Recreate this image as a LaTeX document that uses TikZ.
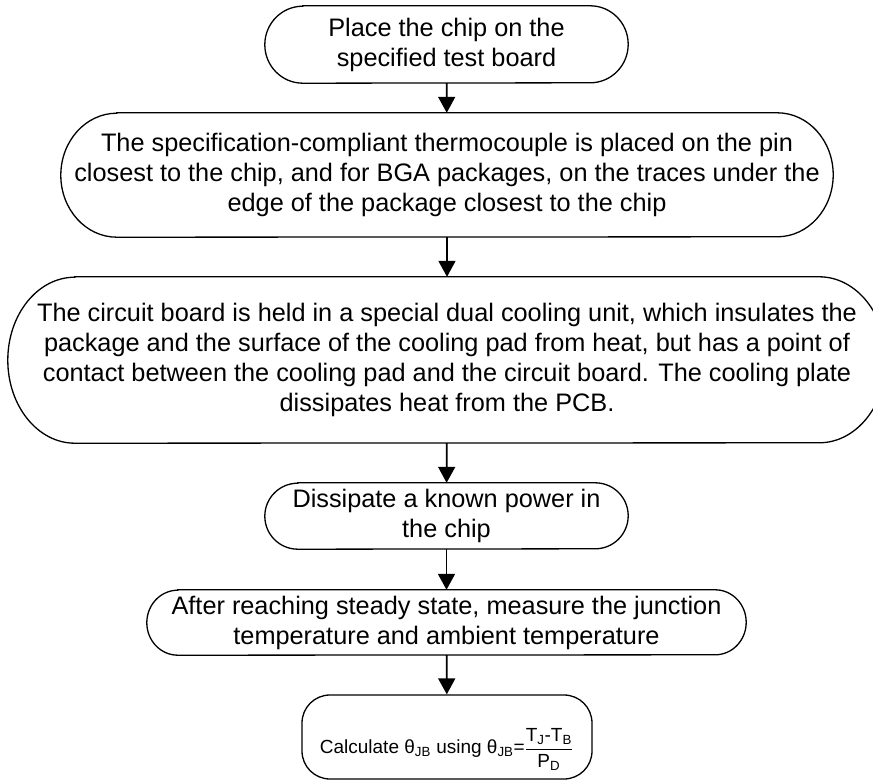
\documentclass[tikz,border=0pt]{standalone}
\usepackage{fontspec}
\setmainfont{Liberation Sans}
\usetikzlibrary{arrows.meta}
\tikzset{
  box/.style={shape=rectangle, inner sep=0pt, align=center, font=\fontsize{25.3}{30}\selectfont},
  outline/.style={draw=black, line width=1.3pt},
  arr/.style={draw=black, line width=1.8pt, -{Triangle[length=16pt,width=17pt]}},
}
\newcommand\stadium[3]{%
  \draw[outline] ([xshift=#2]#1.north west) -- ([xshift=-#2]#1.north east)
    arc[start angle=90,end angle=-90,x radius=#2,y radius=#3]
    -- ([xshift=#2]#1.south west)
    arc[start angle=270,end angle=90,x radius=#2,y radius=#3] -- cycle;}
\begin{document}
\begin{tikzpicture}[x=1pt,y=1pt]
\useasboundingbox (0,0) rectangle (873,-783);
\fill[white] (0,0) rectangle (873,-783);
\clip (0,0) rectangle (873,-783);
\node[box, minimum width=363pt, minimum height=77pt] (b1) at (446.5,-44.5)
  {Place the chip on the\\specified test board};
\node[box, minimum width=772pt, minimum height=124pt] (b2) at (447,-175)
  {The specification-compliant thermocouple is placed on the pin\\closest to the chip, and for BGA packages, on the traces under the\\edge of the package closest to the chip};
\node[box, minimum width=878pt, minimum height=166pt] (b3) at (447,-360)
  {The circuit board is held in a special dual cooling unit, which insulates the\\package and the surface of the cooling pad from heat, but has a point of\\contact between the cooling pad and the circuit board. The cooling plate\\dissipates heat from the PCB.};
\node[box, minimum width=363pt, minimum height=66pt] (b4) at (446.5,-516)
  {Dissipate a known power in\\the chip};
\node[box, minimum width=599pt, minimum height=65pt] (b5) at (446.5,-622.5)
  {After reaching steady state, measure the junction\\temperature and ambient temperature};
\node[shape=rectangle, outline, rounded corners=28pt, minimum width=290pt, minimum height=84pt, inner sep=0pt] (b6) at (447,-737) {};
\node[font=\fontsize{19}{23}\selectfont, inner sep=0pt] (t6) at (446.5,-749.5)
  {Calculate θ\textsubscript{JB} using θ\textsubscript{JB}=$\displaystyle\frac{\mbox{\rule[-3pt]{0pt}{3pt}T\textsubscript{J}-T\textsubscript{B}}}{\mbox{\rule{0pt}{17pt}P\textsubscript{D}}}$};
\stadium{b1}{38pt}{38.5pt}
\stadium{b2}{56pt}{62pt}
\stadium{b3}{67pt}{83pt}
\stadium{b4}{33pt}{33pt}
\stadium{b5}{31pt}{32.5pt}
\draw[arr] (b1) -- (b2);
\draw[arr] (b2) -- (b3);
\draw[arr] (b3) -- (b4);
\draw[arr] (b4) -- (b5);
\draw[arr] (b5) -- (b6);
\end{tikzpicture}
\end{document}
